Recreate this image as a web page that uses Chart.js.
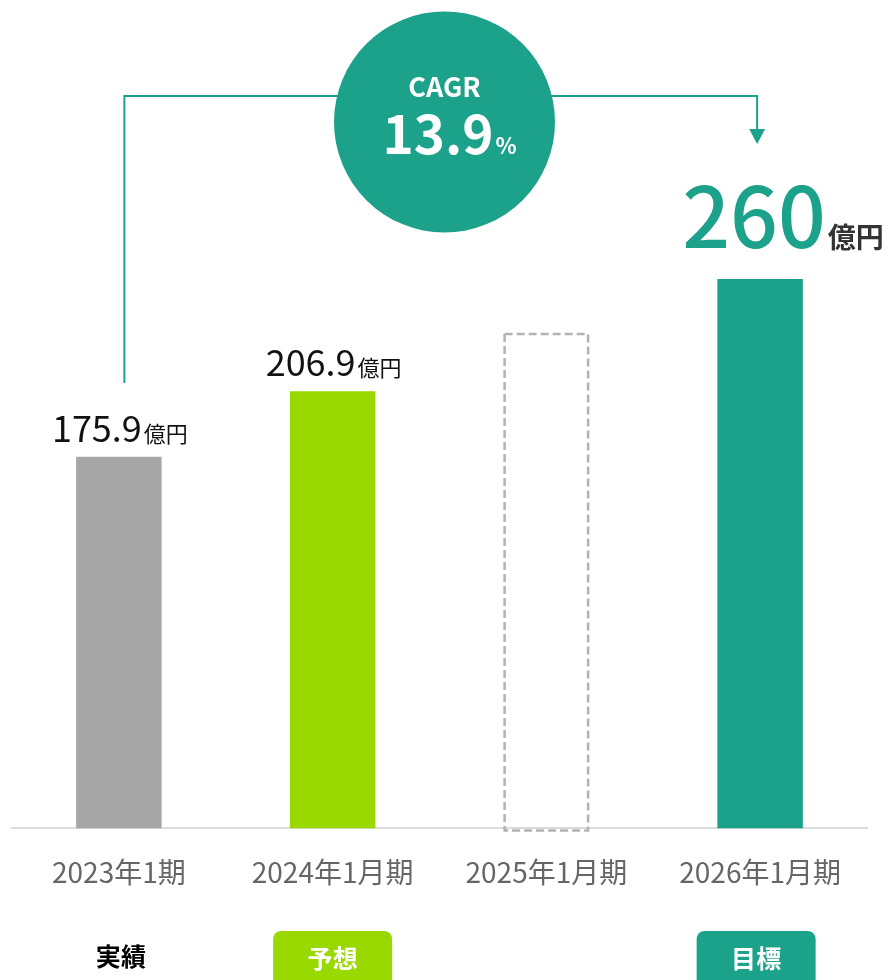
<!DOCTYPE html>
<html lang="ja">
<head>
<meta charset="UTF-8">
<title>売上高の推移</title>
<script src="https://cdn.jsdelivr.net/npm/chart.js"></script>
<style>
  html, body { margin: 0; padding: 0; background: #fff; }
  .wrap { width: 889px; height: 980px; }
</style>
</head>
<body>
<div class="wrap"><canvas id="salesChart" width="889" height="980"></canvas></div>
<script>
// data
const periods = ['2023年1期', '2024年1月期', '2025年1月期', '2026年1月期'];
const sales = [175.9, 206.9, 234, 260];      // 2025 is an empty placeholder bar
const showValue = [true, true, false, true];
const stages = ['実績', '予想', '', '目標'];
const cagr = '13.9';
const unit = '億円';

const TEAL = '#1ca28a';
const LIME = '#99d900';
const GRAY = '#a6a6a6';
const FONT = '"Noto Sans CJK JP", "Noto Sans", sans-serif';

function font(weight, size) {
    return weight + ' ' + size + 'px ' + FONT;
}

const decorations = {
    id: 'decorations',
    afterDatasetsDraw(chart) {
        const ctx = chart.ctx;
        const bars = chart.getDatasetMeta(0).data;
        ctx.save();

        // dashed outline for the 2025 bar
        const p = bars[2];
        ctx.setLineDash([8, 4]);
        ctx.strokeStyle = '#b3b3b3';
        ctx.lineWidth = 2.5;
        ctx.strokeRect(p.x - p.width / 2 + 1, p.y, p.width - 2, p.base - p.y + 2);
        ctx.setLineDash([]);

        // value labels
        ctx.textBaseline = 'alphabetic';
        ctx.textAlign = 'left';
        sales.forEach((v, i) => {
            if (!showValue[i]) return;
            const b = bars[i];
            const big = i === sales.length - 1;
            const numFont = big ? font(500, 84) : font(400, 36);
            const unitFont = big ? font(700, 28) : font(400, 22);
            ctx.font = numFont;
            const wn = ctx.measureText(String(v)).width;
            ctx.font = unitFont;
            const wu = ctx.measureText(unit).width;
            const baseY = b.y - (big ? 31 : 15);
            const x0 = big ? b.x - 78 : b.x - (wn + wu) / 2;
            ctx.font = numFont;
            ctx.fillStyle = big ? TEAL : '#111';
            ctx.fillText(String(v), x0, baseY);
            ctx.font = unitFont;
            ctx.fillStyle = big ? '#333' : '#111';
            ctx.fillText(unit, x0 + wn + 2, baseY);
        });

        // CAGR connector line + arrow
        const lx = bars[0].x + 5.5;
        const rx = bars[3].x - 3;
        const ly = 96;
        ctx.strokeStyle = TEAL;
        ctx.lineWidth = 2;
        ctx.beginPath();
        ctx.moveTo(lx, 383);
        ctx.lineTo(lx, ly);
        ctx.lineTo(rx, ly);
        ctx.lineTo(rx, 130);
        ctx.stroke();
        ctx.fillStyle = TEAL;
        ctx.beginPath();
        ctx.moveTo(rx - 8, 129);
        ctx.lineTo(rx + 8, 129);
        ctx.lineTo(rx, 144);
        ctx.closePath();
        ctx.fill();

        // CAGR circle
        const cx = 444.5, cy = 122;
        ctx.beginPath();
        ctx.arc(cx, cy, 110.5, 0, Math.PI * 2);
        ctx.fill();
        ctx.fillStyle = '#fff';
        ctx.textAlign = 'center';
        ctx.font = font(700, 27);
        ctx.fillText('CAGR', cx, 97);
        ctx.textAlign = 'left';
        ctx.font = font(600, 53);
        const wc = ctx.measureText(cagr).width;
        ctx.font = font(700, 22);
        const wp = ctx.measureText('%').width;
        const cx0 = cx + 5 - (wc + wp + 2) / 2;
        ctx.font = font(600, 53);
        ctx.fillText(cagr, cx0, 154);
        ctx.font = font(700, 22);
        ctx.fillText('%', cx0 + wc + 2, 154);

        // stage badges under the axis labels
        ctx.textAlign = 'center';
        ctx.textBaseline = 'middle';
        stages.forEach((s, i) => {
            if (!s) return;
            const x = bars[i].x + (i === 3 ? -4 : 0);
            if (i === 0) {
                ctx.fillStyle = '#000';
                ctx.font = font(700, 25);
                ctx.fillText(s, x + 2, 956);
                return;
            }
            ctx.fillStyle = i === 1 ? LIME : TEAL;
            ctx.beginPath();
            ctx.roundRect(x - 59.5, 931, 119, 60, 8);
            ctx.fill();
            ctx.fillStyle = '#fff';
            ctx.font = font(700, 25);
            ctx.fillText(s, x, 958);
        });

        ctx.restore();
    }
};

new Chart(document.getElementById('salesChart'), {
    type: 'bar',
    data: {
        labels: periods,
        datasets: [{
            data: sales,
            backgroundColor: [GRAY, LIME, 'rgba(0,0,0,0)', TEAL],
            borderWidth: 0,
            barPercentage: 0.4,
            categoryPercentage: 1
        }]
    },
    options: {
        responsive: false,
        animation: false,
        layout: { padding: { left: 12, right: 22, top: 0, bottom: 64 } },
        plugins: {
            legend: { display: false },
            tooltip: { enabled: false }
        },
        scales: {
            x: {
                grid: { display: false, drawTicks: false },
                border: { display: true, color: '#dcdcdc', width: 2 },
                ticks: {
                    color: '#666',
                    font: { family: FONT, size: 28 },
                    padding: 27,
                    maxRotation: 0,
                    autoSkip: false
                }
            },
            y: { display: false, min: 0, max: 392 }
        }
    },
    plugins: [decorations]
});
</script>
</body>
</html>
